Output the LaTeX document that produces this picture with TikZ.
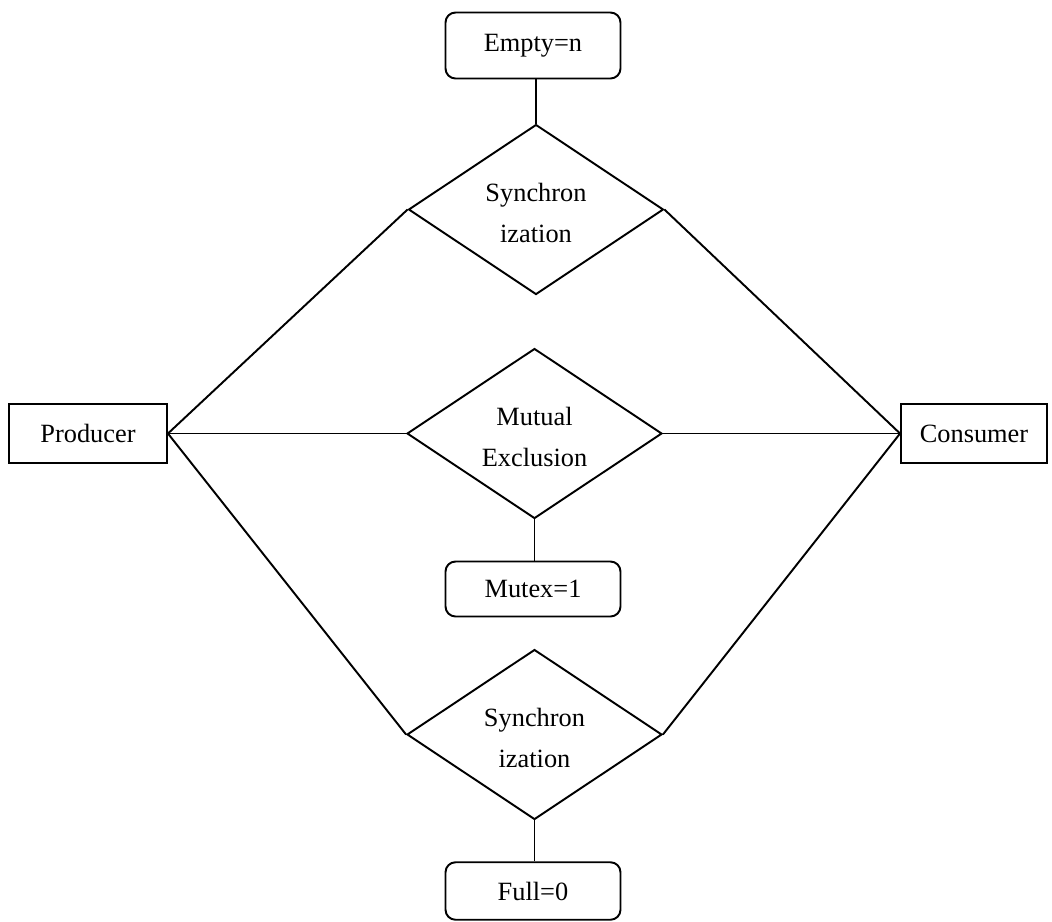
\documentclass[tikz,border=0pt]{standalone}
\usepackage{fontspec}
\setmainfont{Liberation Serif}
\usetikzlibrary{shapes.geometric}
\newcommand{\condlabel}[2]{\raisebox{-6pt}[0pt][0pt]{\begin{tabular}{@{}c@{}}#1\\#2\end{tabular}}}
\begin{document}
\begin{tikzpicture}[
		x=0.02cm, y=-0.02cm, % pixel-like grid, y downwards
		line width=1.1pt,
		every node/.style={font=\fontsize{15}{23}\selectfont, align=center},
		sem/.style={draw, rounded corners=0.2cm, minimum width=3.5cm, minimum height=1.15cm},
		proc/.style={draw, minimum height=1.18cm},
		cond/.style={draw, diamond, inner sep=0pt, minimum width=5.1cm, minimum height=3.4cm}
		]
		\useasboundingbox (0,0) rectangle (1052,921);
		% Semaphores
		\node[sem, minimum height=1.32cm] (empty) at (533,45.5) {Empty=n};
		\node[sem, minimum height=1.1cm] (mutex) at (533,589) {Mutex=1};
		\node[sem] (full) at (533,891) {Full=0};
		% Processes
		\node[proc, minimum width=3.16cm] (producer) at (88,433.5) {Producer};
		\node[proc, minimum width=2.92cm] (consumer) at (974,433.5) {Consumer};
		% Relations
		\node[cond] (syncA) at (536,209.5) {\condlabel{Synchron}{ization}};
		\node[cond] (mutual) at (534.5,433.5) {\condlabel{Mutual}{Exclusion}};
		\node[cond] (syncB) at (534.5,734.5) {\condlabel{Synchron}{ization}};
		
		% Lines
		\draw (syncA.north) -- (syncA.north |- empty.south);
		\draw (mutual.south) -- (mutual.south |- mutex.north);
		\draw (syncB.south) -- (syncB.south |- full.north);
		\draw (producer.east) -- (syncA.west);
		\draw (producer.east) -- (mutual.west);
		\draw (producer.east) -- (syncB.west);
		\draw (consumer.west) -- (syncA.east);
		\draw (consumer.west) -- (mutual.east);
		\draw (consumer.west) -- (syncB.east);
	\end{tikzpicture}
\end{document}
